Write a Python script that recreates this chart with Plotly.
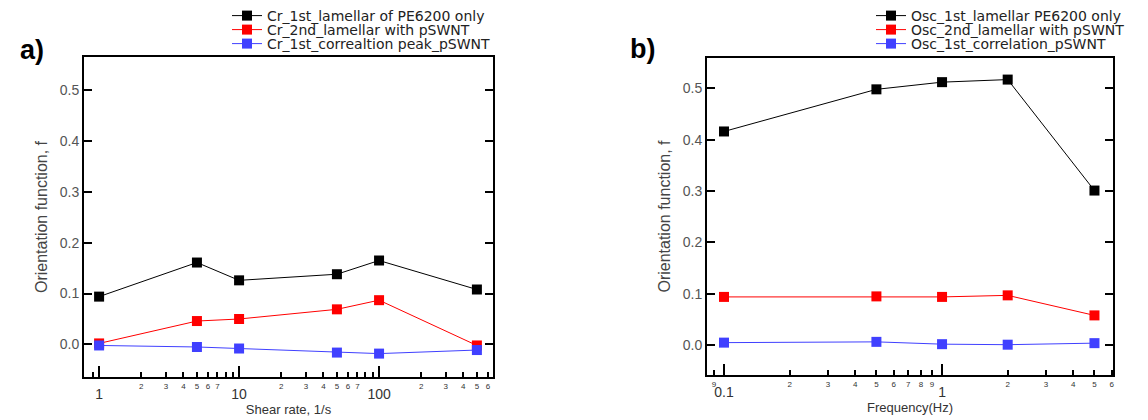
import numpy as np
import plotly.graph_objects as go

# ---------------- data ----------------
shear_rate = [1, 5, 10, 50, 100, 500]
cr_1st_lamellar = [0.094, 0.161, 0.126, 0.138, 0.165, 0.108]
cr_2nd_lamellar = [0.002, 0.046, 0.050, 0.069, 0.087, -0.002]
cr_1st_corr = [-0.002, -0.005, -0.008, -0.016, -0.018, -0.011]

frequency = [0.1, 0.5, 1, 2, 5]
osc_1st_lamellar = [0.416, 0.498, 0.512, 0.517, 0.301]
osc_2nd_lamellar = [0.094, 0.095, 0.094, 0.097, 0.058]
osc_1st_corr = [0.005, 0.0065, 0.002, 0.001, 0.004]

names_a = ["Cr_1st_lamellar of PE6200 only", "Cr_2nd_lamellar with pSWNT",
           "Cr_1st_correaltion peak_pSWNT"]
names_b = ["Osc_1st_lamellar PE6200 only", "Osc_2nd_lamellar with pSWNT",
           "Osc_1st_correlation_pSWNT"]
colors = ["#000000", "#ff0000", "#4040ff"]

y_ticks = [0.0, 0.1, 0.2, 0.3, 0.4, 0.5]

# tick values / labels for log axes
a_ticks = [0.9, 1, 2, 3, 4, 5, 6, 7, 8, 9, 10, 20, 30, 40, 50, 60, 70, 80, 90, 100,
           200, 300, 400, 500, 600]
a_labels = ["", "1", "2", "3", "4", "5", "6", "7", "", "", "10", "2", "3", "4", "5", "6",
            "7", "", "", "100", "2", "3", "4", "5", "6"]
a_major = [1, 10, 100]

b_ticks = [0.09, 0.1, 0.2, 0.3, 0.4, 0.5, 0.6, 0.7, 0.8, 0.9, 1, 2, 3, 4, 5, 6]
b_labels = ["9", "0.1", "2", "3", "4", "5", "6", "7", "8", "9", "1", "2", "3", "4", "5", "6"]
b_major = [0.1, 1]

FONT = "Liberation Sans"
LFONT = "DejaVu Sans"
W, H = 1148, 420


def fmt_labels(ticks, labels, majors):
    out = []
    for t, l in zip(ticks, labels):
        if t in majors:
            out.append(" <br><span style='font-size:14px'>%s</span>" % l)
        else:
            out.append(l)
    return out


fig = go.Figure()

legend_ids = ["legend", "legend2", "legend3", "legend4", "legend5", "legend6"]

for i, (ys, nm, c) in enumerate(zip([cr_1st_lamellar, cr_2nd_lamellar, cr_1st_corr],
                                    names_a, colors)):
    fig.add_trace(go.Scatter(x=shear_rate, y=ys, name=nm, mode="lines+markers",
                             line=dict(color=c, width=1),
                             marker=dict(symbol="square", size=10, color=c),
                             xaxis="x", yaxis="y", legend=legend_ids[i]))

for i, (ys, nm, c) in enumerate(zip([osc_1st_lamellar, osc_2nd_lamellar, osc_1st_corr],
                                    names_b, colors)):
    fig.add_trace(go.Scatter(x=frequency, y=ys, name=nm, mode="lines+markers",
                             line=dict(color=c, width=1),
                             marker=dict(symbol="square", size=10, color=c),
                             xaxis="x2", yaxis="y2", legend=legend_ids[3 + i]))


def xaxis_cfg(domain, rng, ticks, labels, majors, title, anchor):
    return dict(
        type="log", domain=domain, range=rng, anchor=anchor,
        tickmode="array", tickvals=ticks, ticktext=fmt_labels(ticks, labels, majors),
        tickangle=0,
        ticks="inside", ticklen=5, tickwidth=1.5, tickcolor="black",
        tickfont=dict(family=FONT, size=8, color="#333333"),
        minor=dict(tickmode="array", tickvals=majors, ticks="inside", ticklen=11,
                   tickwidth=2, tickcolor="black", showgrid=False),
        showline=True, linewidth=2, linecolor="black", mirror=True,
        showgrid=False, zeroline=False,
        title=dict(text=title, font=dict(family=FONT, size=13, color="#333333"), standoff=2),
    )


def yaxis_cfg(domain, rng, anchor):
    return dict(
        domain=domain, range=rng, anchor=anchor,
        tickmode="array", tickvals=y_ticks, tickformat=".1f",
        ticks="inside", ticklen=8, tickwidth=2, tickcolor="black",
        tickfont=dict(family=FONT, size=14, color="#555555"),
        showline=True, linewidth=2, linecolor="black", mirror="ticks",
        showgrid=False, zeroline=False,
        title=dict(text="Orientation function, f",
                   font=dict(family=FONT, size=16, color="#444444"), standoff=8),
    )


row_offsets = [0, 14, 28]   # px below the top for each legend row
legend_left = [227, 871]

legend_layout = {}
for p in range(2):
    for r in range(3):
        legend_layout[legend_ids[3 * p + r]] = dict(
            x=legend_left[p] / W, y=1 - row_offsets[r] / H,
            xanchor="left", yanchor="top",
            font=dict(family=LFONT, size=14, color="#222222"),
            bgcolor="rgba(0,0,0,0)", borderwidth=0, itemwidth=30)

fig.update_layout(
    width=W, height=H,
    margin=dict(l=0, r=0, t=0, b=0),
    paper_bgcolor="white", plot_bgcolor="white",
    font=dict(family=FONT),
    xaxis=xaxis_cfg([84 / W, 493 / W], [np.log10(0.78), 2.814],
                    a_ticks, a_labels, a_major, "Shear rate, 1/s", "y"),
    yaxis=yaxis_cfg([1 - 377 / H, 1 - 57 / H], [-0.064, 0.565], "x"),
    xaxis2=xaxis_cfg([707 / W, 1113 / W], [-1.078, 0.784],
                     b_ticks, b_labels, b_major, "Frequency(Hz)", "y2"),
    yaxis2=yaxis_cfg([1 - 375 / H, 1 - 58 / H], [-0.058, 0.559], "x2"),
    showlegend=True,
    annotations=[
        dict(text="<b>a)</b>", x=32 / W, y=1 - 50 / H, xref="paper", yref="paper",
             xanchor="center", yanchor="middle",
             showarrow=False, font=dict(family=FONT, size=27, color="black")),
        dict(text="<b>b)</b>", x=642 / W, y=1 - 49 / H, xref="paper", yref="paper",
             xanchor="center", yanchor="middle",
             showarrow=False, font=dict(family=FONT, size=27, color="black")),
    ],
    **legend_layout,
)

fig.write_html("out.html", config={"displayModeBar": False},
               post_script="document.body.style.margin='0';document.body.style.padding='0';")
